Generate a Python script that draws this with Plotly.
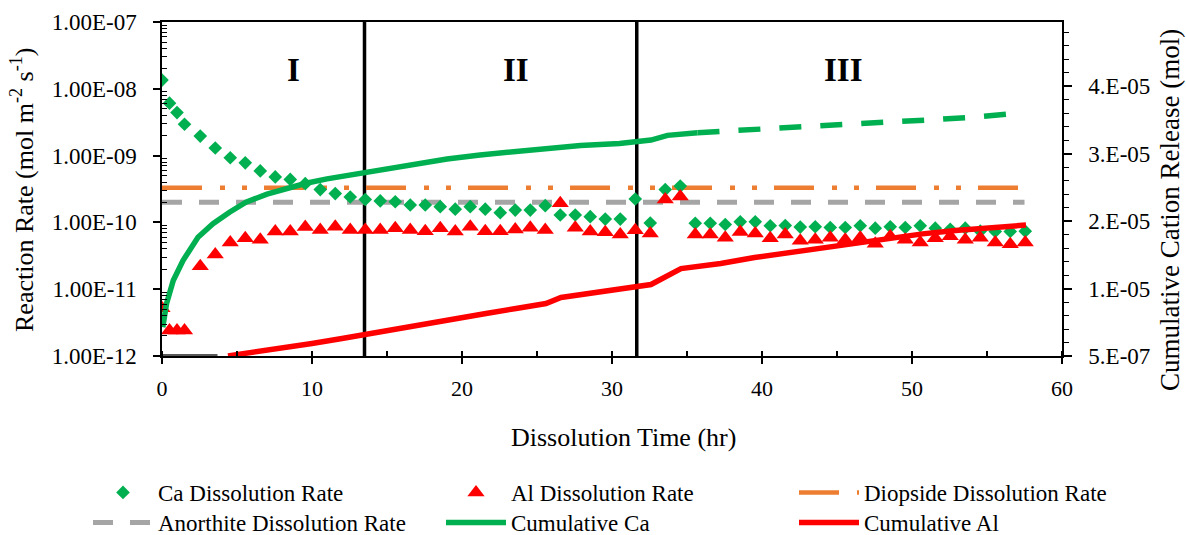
import plotly.graph_objects as go

# ---------------- data ----------------
rate_time = [0, 0.5, 1.0, 1.5, 2.55, 3.55, 4.55, 5.55, 6.55, 7.55, 8.55, 9.55, 10.55, 11.55,
             12.55, 13.55, 14.55, 15.55, 16.55, 17.55, 18.55, 19.55, 20.55, 21.55, 22.55,
             23.55, 24.55, 25.55, 26.55, 27.55, 28.55, 29.55, 30.55, 31.55, 32.55, 33.55,
             34.55, 35.55, 36.55, 37.55, 38.55, 39.55, 40.55, 41.55, 42.55, 43.55, 44.55,
             45.55, 46.55, 47.55, 48.55, 49.55, 50.55, 51.55, 52.55, 53.55, 54.55, 55.55,
             56.55, 57.55]

ca_rate = [1.35e-8, 6.1e-9, 4.4e-9, 2.95e-9, 1.96e-9, 1.3e-9, 9.3e-10, 7.8e-10, 5.9e-10, 4.8e-10,
           4.4e-10, 3.8e-10, 3.1e-10, 2.7e-10, 2.4e-10, 2.2e-10, 2.1e-10, 2.04e-10, 1.82e-10,
           1.82e-10, 1.72e-10, 1.58e-10, 1.72e-10, 1.58e-10, 1.40e-10, 1.53e-10, 1.53e-10,
           1.78e-10, 1.29e-10, 1.29e-10, 1.22e-10, 1.12e-10, 1.12e-10, 2.24e-10, 9.8e-11,
           3.1e-10, 3.5e-10, 9.7e-11, 9.7e-11, 9.3e-11, 1.02e-10, 1.02e-10, 8.9e-11, 9.0e-11,
           8.5e-11, 8.6e-11, 8.4e-11, 8.4e-11, 8.9e-11, 8.2e-11, 8.6e-11, 8.4e-11, 8.9e-11,
           8.2e-11, 7.9e-11, 8.2e-11, 7.4e-11, 7.3e-11, 7.3e-11, 7.4e-11]

al_rate = [5.2e-12, 2.4e-12, 2.4e-12, 2.4e-12, 2.2e-11, 3.3e-11, 5.0e-11, 5.8e-11, 5.5e-11, 7.3e-11,
           7.3e-11, 8.5e-11, 7.7e-11, 8.6e-11, 7.7e-11, 7.7e-11, 7.7e-11, 8.2e-11, 7.7e-11,
           7.4e-11, 8.2e-11, 7.3e-11, 8.6e-11, 7.4e-11, 7.4e-11, 7.8e-11, 8.3e-11, 7.7e-11,
           1.93e-10, 8.3e-11, 7.3e-11, 7.1e-11, 6.6e-11, 7.6e-11, 6.8e-11, 2.2e-10, 2.45e-10,
           6.6e-11, 6.6e-11, 5.9e-11, 7.2e-11, 6.8e-11, 5.8e-11, 6.6e-11, 5.3e-11, 5.5e-11,
           5.9e-11, 5.5e-11, 5.9e-11, 4.8e-11, 6.2e-11, 5.5e-11, 5.0e-11, 5.8e-11, 6.2e-11,
           5.5e-11, 5.9e-11, 5.0e-11, 4.7e-11, 5.0e-11]

ref_time = [0, 57.5]
diopside_rate = [3.3e-10, 3.3e-10]
anorthite_rate = [2.0e-10, 2.0e-10]

cum_ca_time = [0.05, 0.3, 0.75, 1.4, 2.4, 3.4, 4.5, 5.6, 7.0, 8.5, 9.6, 11.0, 13.0, 15.2, 16.8,
               19.0, 21.2, 23.4, 25.6, 27.9, 30.5, 31.6, 32.6, 33.7, 34.7, 35.7]
cum_ca = [4.77e-6, 8.23e-6, 1.169e-5, 1.465e-5, 1.81e-5, 2.01e-5, 2.18e-5, 2.33e-5, 2.45e-5,
          2.55e-5, 2.61e-5, 2.675e-5, 2.75e-5, 2.82e-5, 2.90e-5, 2.97e-5, 3.03e-5, 3.08e-5,
          3.13e-5, 3.17e-5, 3.20e-5, 3.23e-5, 3.25e-5, 3.32e-5, 3.35e-5, 3.36e-5]

cum_ca_ext_time = [35.7, 37.25, 40.1, 42.9, 45.7, 48.5, 51.3, 54.1, 57.5]
cum_ca_ext = [3.36e-5, 3.38e-5, 3.43e-5, 3.46e-5, 3.50e-5, 3.52e-5, 3.55e-5, 3.59e-5, 3.66e-5]

cum_al_time = [4.4, 6.0, 8.0, 10.0, 12.0, 13.5, 15.6, 17.6, 19.6, 21.6, 23.6, 25.6, 26.6, 28.6,
               30.6, 31.6, 32.6, 34.6, 37.25, 39.5, 41.7, 44.0, 46.2, 48.5, 50.7, 52.9, 55.2, 57.6]
cum_al = [5.2e-7, 1.02e-6, 1.61e-6, 2.35e-6, 3.09e-6, 3.69e-6, 4.57e-6, 5.31e-6, 6.06e-6,
          6.80e-6, 7.54e-6, 8.28e-6, 9.17e-6, 9.76e-6, 1.035e-5, 1.065e-5, 1.109e-5, 1.346e-5,
          1.42e-5, 1.51e-5, 1.58e-5, 1.65e-5, 1.72e-5, 1.80e-5, 1.86e-5, 1.91e-5, 1.95e-5, 1.99e-5]

cum_al_pre_time = [0, 3.7]
cum_al_pre = [5e-7, 5e-7]

stage_bounds = [13.5, 31.65]
stage_labels = ["I", "II", "III"]
stage_label_x = [8.75, 23.6, 45.4]

left_tickvals = [1e-12, 1e-11, 1e-10, 1e-9, 1e-8, 1e-7]
left_ticktext = ["1.00E-12", "1.00E-11", "1.00E-10", "1.00E-09", "1.00E-08", "1.00E-07"]
right_tickvals = [5e-7, 1.05e-5, 2.05e-5, 3.05e-5, 4.05e-5]
right_ticktext = ["5.E-07", "1.E-05", "2.E-05", "3.E-05", "4.E-05"]

# ---------------- styling ----------------
FONT = "Liberation Serif, Times New Roman, serif"
GREEN = "#00B050"
RED = "#FF0000"
ORANGE = "#ED7D31"
GRAY = "#A5A5A5"

left_minor = [k * 10.0 ** e for e in range(-12, -7) for k in range(2, 10)]
right_minor = [5e-7 + 2e-6 * k for k in range(0, 25)]

fig = go.Figure()

fig.add_trace(go.Scatter(x=ref_time, y=diopside_rate, mode="lines", name="Diopside Dissolution Rate",
                         line=dict(color=ORANGE, width=4.5, dash="40px,18px,5px,17px,5px,17px"),
                         legend="legend", legendrank=3))
fig.add_trace(go.Scatter(x=ref_time, y=anorthite_rate, mode="lines", name="Anorthite Dissolution Rate",
                         line=dict(color=GRAY, width=5, dash="20px,17px"),
                         legend="legend2", legendrank=4))
fig.add_trace(go.Scatter(x=rate_time, y=ca_rate, mode="markers", name="Ca Dissolution Rate",
                         marker=dict(symbol="diamond", size=10.5, color=GREEN),
                         legend="legend", legendrank=1))
fig.add_trace(go.Scatter(x=rate_time, y=al_rate, mode="markers", name="Al Dissolution Rate",
                         marker=dict(symbol="triangle-up", size=15, color=RED),
                         legend="legend", legendrank=2))

fig.add_trace(go.Scatter(x=cum_al_pre_time, y=cum_al_pre, mode="lines", showlegend=False,
                         line=dict(color="#595959", width=4), yaxis="y2", hoverinfo="skip"))
fig.add_trace(go.Scatter(x=cum_ca_time, y=cum_ca, mode="lines", name="Cumulative Ca",
                         line=dict(color=GREEN, width=5.5), yaxis="y2",
                         legend="legend2", legendrank=5))
fig.add_trace(go.Scatter(x=cum_ca_ext_time, y=cum_ca_ext, mode="lines", showlegend=False,
                         line=dict(color=GREEN, width=5.5, dash="22px,19px"), yaxis="y2"))
fig.add_trace(go.Scatter(x=cum_al_time, y=cum_al, mode="lines", name="Cumulative Al",
                         line=dict(color=RED, width=5.5), yaxis="y2",
                         legend="legend2", legendrank=6))

for xb in stage_bounds:
    fig.add_shape(type="line", xref="x", yref="paper", x0=xb, x1=xb, y0=0, y1=1,
                  line=dict(color="black", width=3.5), layer="below")

annotations = []
for lab, lx in zip(stage_labels, stage_label_x):
    annotations.append(dict(x=lx, y=0.855, xref="x", yref="paper", text="<b>%s</b>" % lab,
                            showarrow=False, font=dict(family=FONT, size=33, color="black"),
                            xanchor="center", yanchor="middle"))
annotations.append(dict(x=(22 - 162) / 900, y=(356 - 190) / 334, xref="paper", yref="paper",
                        text="Reaction Rate (mol m<sup>-2</sup> s<sup>-1</sup>)", textangle=-90,
                        showarrow=False, font=dict(family=FONT, size=26, color="black"),
                        xanchor="center", yanchor="middle"))
annotations.append(dict(x=(1170 - 162) / 900, y=(356 - 210) / 334, xref="paper", yref="paper",
                        text="Cumulative Cation Release (mol)", textangle=-90,
                        showarrow=False, font=dict(family=FONT, size=27, color="black"),
                        xanchor="center", yanchor="middle"))
annotations.append(dict(x=(623 - 162) / 900, y=(356 - 437) / 334, xref="paper", yref="paper",
                        text="Dissolution Time (hr)",
                        showarrow=False, font=dict(family=FONT, size=26, color="black"),
                        xanchor="center", yanchor="middle"))

legend_common = dict(orientation="h", xanchor="left", yanchor="top",
                     font=dict(family=FONT, size=23, color="black"),
                     entrywidth=278, entrywidthmode="pixels", itemwidth=60,
                     bgcolor="rgba(0,0,0,0)", traceorder="normal")

fig.update_layout(
    width=1186, height=535,
    margin=dict(l=162, r=124, t=22, b=179, autoexpand=False),
    paper_bgcolor="white", plot_bgcolor="white",
    font=dict(family=FONT, size=22, color="black"),
    annotations=annotations,
    showlegend=True,
    legend=dict(x=(88 - 162) / 900, y=(356 - 471) / 334, **legend_common),
    legend2=dict(x=(88 - 162) / 900, y=(356 - 501) / 334, **legend_common),
    xaxis=dict(range=[0, 60], tick0=0, dtick=10, showline=True, linecolor="black", linewidth=1.5,
               mirror=True, ticks="outside", ticklen=6, tickwidth=1.5, tickcolor="black",
               minor=dict(dtick=5, ticks="inside", ticklen=5, tickwidth=1.5, tickcolor="black"),
               showgrid=False, zeroline=False, tickfont=dict(size=22), ticklabelstandoff=6),
    yaxis=dict(type="log", range=[-12, -7], tickmode="array", tickvals=left_tickvals,
               ticktext=left_ticktext, showline=True, linecolor="black", linewidth=1.5,
               ticks="outside", ticklen=7, tickwidth=1.5, tickcolor="black",
               minor=dict(tickmode="array", tickvals=left_minor, ticks="inside", ticklen=5,
                          tickwidth=1.2, tickcolor="black", showgrid=False),
               showgrid=False, zeroline=False, tickfont=dict(size=23), ticklabelstandoff=12),
    yaxis2=dict(overlaying="y", side="right", range=[5e-7, 5e-5], tickmode="array",
                tickvals=right_tickvals, ticktext=right_ticktext, showline=True, linecolor="black",
                linewidth=1.5, ticks="outside", ticklen=8, tickwidth=1.5, tickcolor="black",
                minor=dict(tickmode="array", tickvals=right_minor, ticks="outside", ticklen=5,
                           tickwidth=1.2, tickcolor="black", showgrid=False),
                showgrid=False, zeroline=False, tickfont=dict(size=23), ticklabelstandoff=12),
)

fig.write_html("out.html")
